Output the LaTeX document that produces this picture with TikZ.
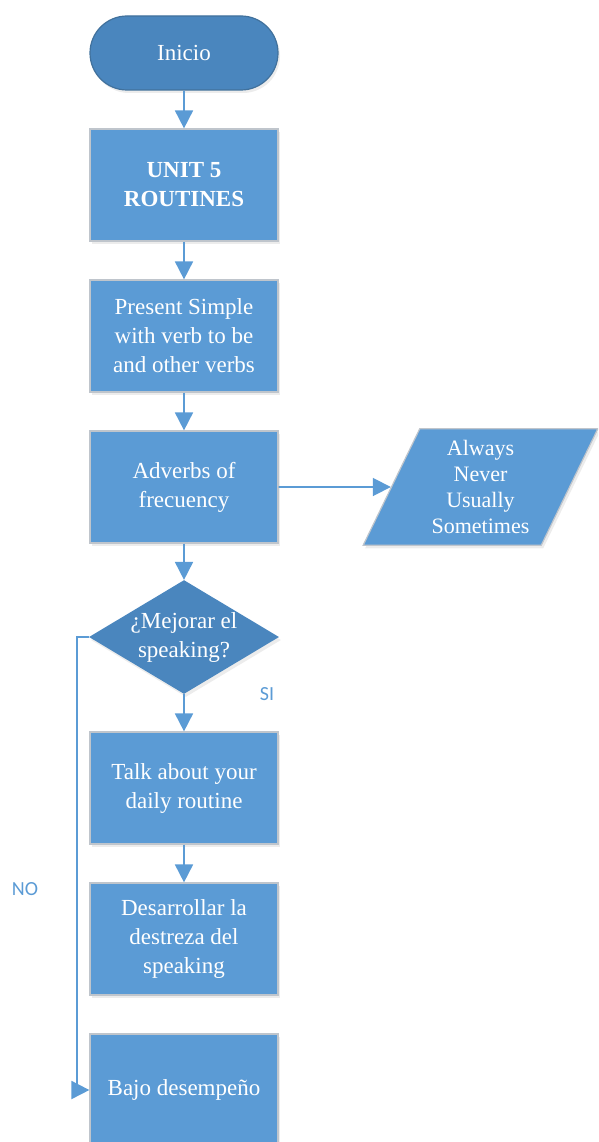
\documentclass[tikz,border=0pt]{standalone}
\usepackage{fontspec}
\setmainfont{Liberation Serif}
\newfontfamily\lblfont{Carlito}
\usetikzlibrary{shapes.geometric,shapes.misc,arrows.meta,shadows}
\definecolor{boxblue}{HTML}{5B9BD5}
\definecolor{darkblue}{HTML}{4A86BE}
\definecolor{edgeblue}{HTML}{41719C}
\definecolor{boxedge}{HTML}{BFC5CC}
\begin{document}
\begin{tikzpicture}[x=1pt,y=-1pt,
  txt/.style={text=white,font=\fontsize{23}{29}\selectfont,align=center},
  procbox/.style={txt,rectangle,fill=boxblue,draw=boxedge,line width=1.2pt,minimum width=188pt,minimum height=112pt,inner sep=0pt,drop shadow={opacity=0.15,shadow xshift=2pt,shadow yshift=-3pt}},
  termbox/.style={txt,rounded rectangle,fill=darkblue,draw=edgeblue,line width=1.2pt,minimum width=188pt,minimum height=74pt,inner sep=0pt,drop shadow={opacity=0.15,shadow xshift=2pt,shadow yshift=-3pt}},
  decbox/.style={txt,diamond,fill=darkblue,draw=none,aspect=1.67,minimum width=187pt,minimum height=112pt,inner sep=0pt,drop shadow={opacity=0.15,shadow xshift=2pt,shadow yshift=-3pt}},
  iobox/.style={txt,font=\fontsize{22}{26}\selectfont,trapezium,trapezium left angle=64,trapezium right angle=116,fill=boxblue,draw=boxedge,line width=1.2pt,minimum width=235pt,minimum height=111pt,inner sep=0pt,drop shadow={opacity=0.15,shadow xshift=2pt,shadow yshift=-3pt}},
  conn/.style={draw=boxblue,line width=1.8pt,-{Triangle[length=18pt,width=18pt]}},
  lbl/.style={text=boxblue,font=\lblfont\fontsize{20}{22}\selectfont}]
\clip (0,0) rectangle (598,1142);
\useasboundingbox (0,0) rectangle (598,1142);
\node[termbox] (inicio) at (184,53) {Inicio};
\node[procbox,font=\fontsize{23}{29}\selectfont\bfseries] (unit) at (184,185) {UNIT 5\\ROUTINES};
\node[procbox] (present) at (184,336) {Present Simple\\with verb to be\\and other verbs};
\node[procbox] (adverbs) at (184,487) {Adverbs of\\frecuency};
\node[iobox] (freq) at (480.5,487) {Always\\Never\\Usually\\Sometimes};
\node[decbox] (dec) at (184,637) {¿Mejorar el\\speaking?};
\node[procbox] (talk) at (184,788) {Talk about your\\daily routine};
\node[procbox] (desa) at (184,939) {Desarrollar la\\destreza del\\speaking};
\node[procbox] (bajo) at (184,1090) {Bajo desempeño};
\coordinate (corner1) at (77,637);
\coordinate (corner2) at (77,1090);
\draw[conn] (inicio) -- (unit);
\draw[conn] (unit) -- (present);
\draw[conn] (present) -- (adverbs);
\draw[conn] (adverbs.east) -- (freq.west);
\draw[conn] (adverbs) -- (dec);
\draw[conn] (dec) -- (talk);
\draw[conn] (talk) -- (desa);
\draw[conn] (dec.west) -- (corner1) -- (corner2) -- (bajo.west);
\node[lbl] (si) at (267,694) {SI};
\node[lbl] (no) at (25,889) {NO};
\end{tikzpicture}
\end{document}
